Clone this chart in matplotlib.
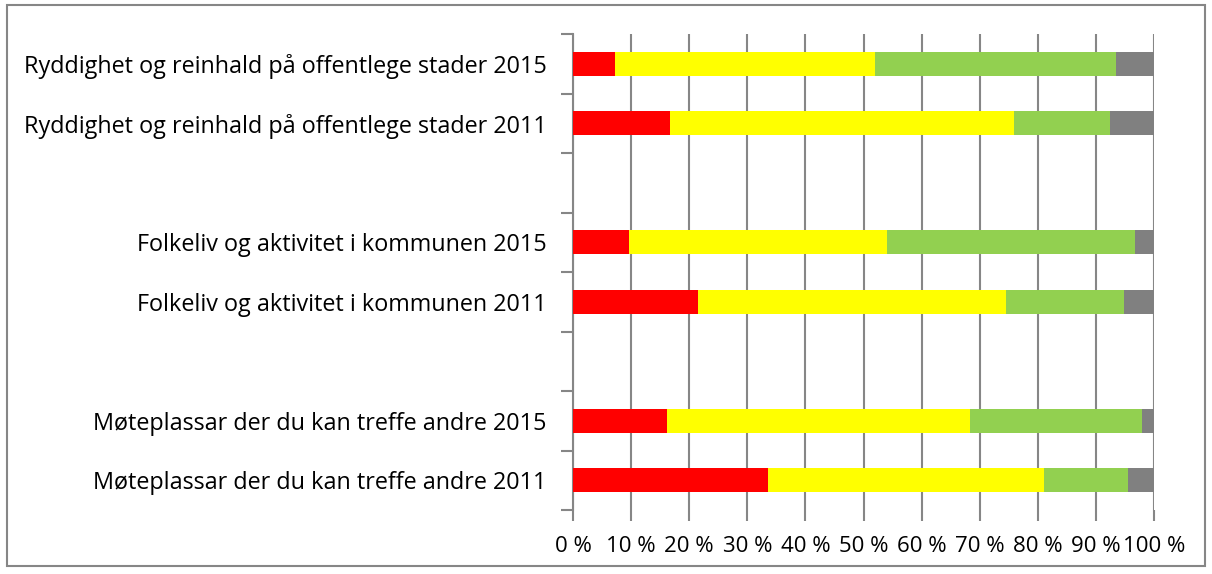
import numpy as np
import matplotlib.pyplot as plt
from matplotlib.patches import Rectangle
from matplotlib.ticker import FixedLocator

# categories from top to bottom, blank strings are gap rows
labels = ["Ryddighet og reinhald på offentlege stader 2015",
          "Ryddighet og reinhald på offentlege stader 2011",
          "",
          "Folkeliv og aktivitet i kommunen 2015",
          "Folkeliv og aktivitet i kommunen 2011",
          "",
          "Møteplassar der du kan treffe andre 2015",
          "Møteplassar der du kan treffe andre 2011"]

red = [7.2, 16.7, 0, 9.7, 21.6, 0, 16.2, 33.5]
yellow = [44.7, 59.2, 0, 44.3, 53.0, 0, 52.1, 47.5]
green = [41.6, 16.6, 0, 42.8, 20.3, 0, 29.6, 14.6]
grey = [6.5, 7.5, 0, 3.2, 5.1, 0, 2.1, 4.4]

xticks = np.arange(0, 101, 10)
xlabels = ["%d %%" % v for v in xticks]

plt.rcParams['font.family'] = ['Open Sans', 'DejaVu Sans']

fig = plt.figure(figsize=(12.12, 5.74), dpi=100)
fig.patches.append(Rectangle((7/1212, 8/574), 1198/1212, 561/574, transform=fig.transFigure,
                             fill=False, edgecolor='#868686', linewidth=1.5))
ax = fig.add_axes([573/1212, 1 - 510/574, (1154-573)/1212, (510-34)/574])

y = np.arange(len(labels))
left = np.zeros(len(labels))
for vals, col in [(red, '#FF0000'), (yellow, '#FFFF00'), (green, '#92D050'), (grey, '#808080')]:
    vals = np.array(vals)
    ax.barh(y, vals, left=left, height=0.4, color=col, zorder=3)
    left = left + vals

ax.set_xlim(0, 100)
ax.set_ylim(len(labels) - 0.5, -0.5)
ax.set_xticks(xticks)
ax.set_xticklabels(xlabels, fontsize=16)
ax.set_yticks(y)
ax.set_yticklabels(labels, fontsize=16.8)
ax.yaxis.set_minor_locator(FixedLocator(np.arange(-0.5, len(labels), 1)))
ax.tick_params(axis='y', which='major', length=0, pad=19)
ax.tick_params(axis='y', which='minor', length=9, width=1.5, color='#868686')
ax.tick_params(axis='x', length=8, width=1.5, color='#868686', pad=11)

ax.grid(axis='x', color='#868686', linewidth=1.5, zorder=0)
for s in ['top', 'right', 'bottom']:
    ax.spines[s].set_visible(False)
ax.spines['left'].set_color('#868686')
ax.spines['left'].set_linewidth(1.5)

fig.savefig('out.png', dpi=100)
